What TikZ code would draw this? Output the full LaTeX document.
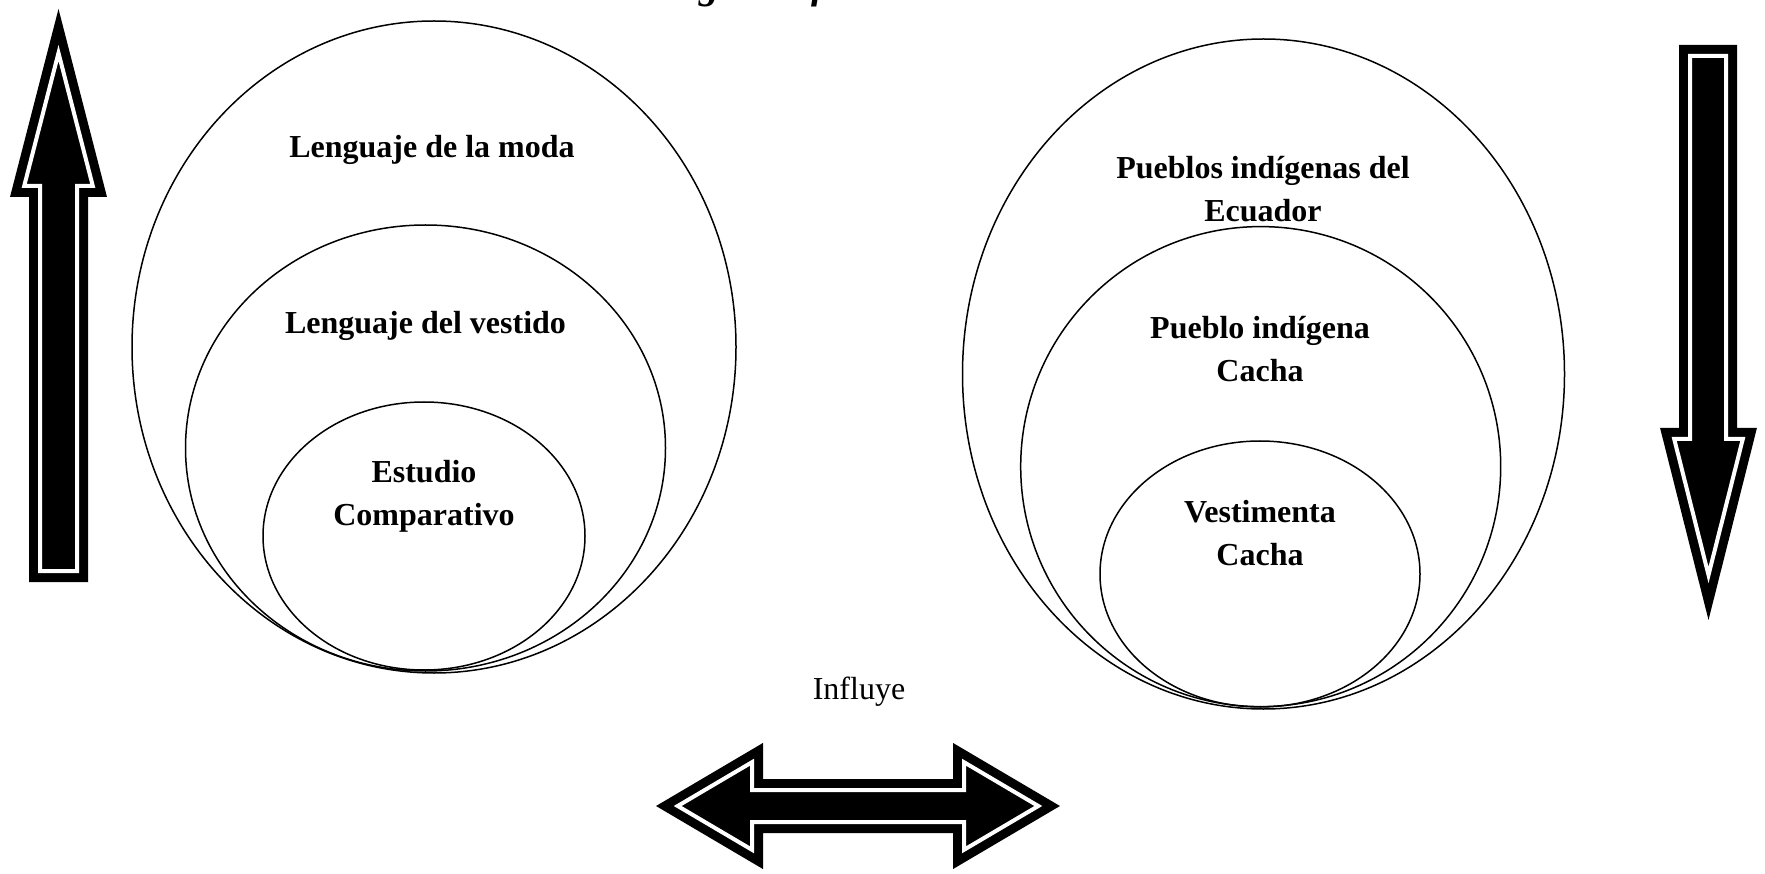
\documentclass[tikz,border=0pt]{standalone}
\usepackage{fontspec}
\setmainfont{Liberation Serif}
\usetikzlibrary{shapes.geometric}
\tikzset{
  ring/.style={draw, ellipse, line width=1.5pt, inner sep=0pt},
  lbl/.style={align=center, font=\fontsize{32}{43}\selectfont\bfseries, inner sep=0pt},
  plain/.style={align=center, font=\fontsize{32}{43}\selectfont, inner sep=0pt},
  outerband/.style={draw=black, fill=black, line width=22pt, line join=miter, miter limit=20},
  whiteline/.style={draw=white, line width=4pt, line join=miter, miter limit=20}
}
\newcommand\bandarrow[1]{\path[outerband] #1; \path[whiteline] #1;}
\begin{document}
\begin{tikzpicture}[x=1pt, y=-1pt]
\useasboundingbox (0,0) rectangle (1765,874);
% title (cut off at top)
\node[anchor=base, inner sep=0pt, font=\fontsize{40}{48}\selectfont\bfseries\itshape] (title) at (840,-1) {Categorías fundamentales};
% left group
\node[ring, minimum width=604pt, minimum height=652pt] (L1) at (434,347) {};
\node[ring, minimum width=480pt, minimum height=446pt] (L2) at (425.5,448) {};
\node[ring, minimum width=322pt, minimum height=268pt] (L3) at (424,536) {};
\node[lbl] (tL1) at (432,150) {Lenguaje de la moda};
\node[lbl] (tL2) at (425.5,326) {Lenguaje del vestido};
\node[lbl] (tL3) at (424,496) {Estudio\\Comparativo};
% right group
\node[ring, minimum width=602pt, minimum height=670pt] (R1) at (1263.5,374) {};
\node[ring, minimum width=480pt, minimum height=480pt] (R2) at (1260.7,466.6) {};
\node[ring, minimum width=320pt, minimum height=266pt] (R3) at (1260,574) {};
\node[lbl] (tR1) at (1263,189) {Pueblos indígenas del\\Ecuador};
\node[lbl] (tR2) at (1260,349) {Pueblo indígena\\Cacha};
\node[lbl] (tR3) at (1260,533) {Vestimenta\\Cacha};
% influye
\node[plain] (inf) at (859,692) {Influye};
% up arrow (left)
\bandarrow{(58.5,53) -- (92.8,186) -- (77,186) -- (77,571) -- (40,571) -- (40,186) -- (24.2,186) -- cycle}
% down arrow (right)
\bandarrow{(1708.5,575) -- (1742.8,439) -- (1726,439) -- (1726,56) -- (1690,56) -- (1690,439) -- (1674.2,439) -- cycle}
% double arrow
\bandarrow{(677.7,806) -- (752,762.2) -- (752,790) -- (964,790) -- (964,762.2) -- (1038.3,806) -- (964,849.8) -- (964,822) -- (752,822) -- (752,849.8) -- cycle}
\end{tikzpicture}
\end{document}
